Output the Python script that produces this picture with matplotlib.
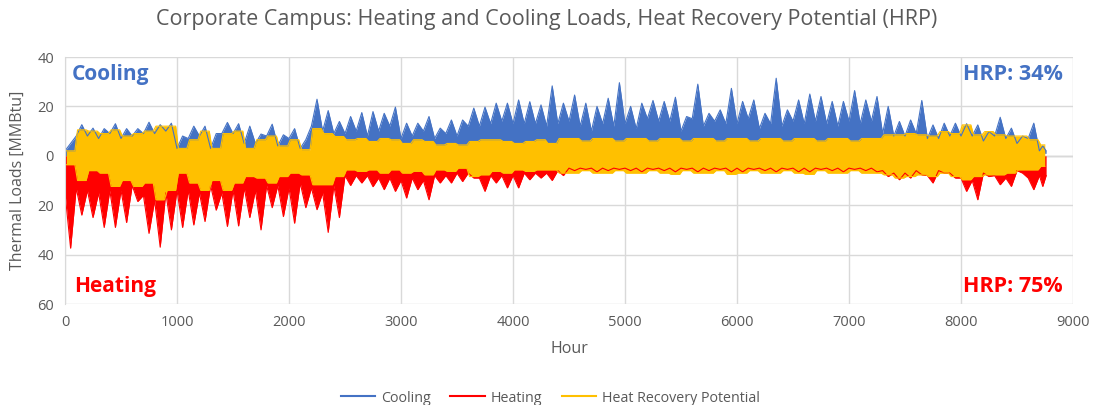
import matplotlib
matplotlib.use("Agg")
import matplotlib.pyplot as plt
import numpy as np

# 100-hour bins across the year (last bin is 8700-8760)
bin_start = np.arange(0, 8760, 100)
bin_end = np.minimum(bin_start + 100, 8760)

# Cooling (positive): spike peak, dense upper edge, lower floor of each bin [MMBtu]
cool_peak = [5, 12.6, 11.2, 11, 13, 11, 11, 13.6, 12.6, 13.2,
             8, 12, 12, 9, 13.5, 13, 12, 8.8, 12.8, 8.5,
             11, 6.5, 22.9, 18.3, 13.9, 15.9, 17.5, 17.9, 17.2, 19.7,
             13.2, 13.2, 15.9, 11.2, 14.5, 14.5, 19.3, 19.7, 21.3, 21.3,
             22.6, 21.9, 20.6, 28.3, 21.3, 24.6, 21.3, 20, 23.3, 29.6,
             20, 21.3, 22.4, 22, 23.7, 15.9, 29, 17.2, 18.6, 27.3,
             22, 22.6, 17.2, 31.4, 18.6, 22.6, 25, 24, 22, 22,
             26.4, 22.6, 24, 20, 13.9, 14.5, 22.4, 12.5, 13.2, 13.2,
             13, 12.5, 9.8, 15.6, 11.2, 8, 13.2, 4]
cool_body = [2, 8, 8, 7, 9, 7, 8, 9, 9, 10,
             3, 7, 8, 3, 9, 9, 5, 5, 8, 4,
             7, 3, 12, 10, 9, 9, 10, 8, 10, 12,
             7, 8, 10, 7, 9, 8, 12, 12, 13, 14,
             13, 13, 13, 12, 13, 14, 12, 10, 13, 12,
             13, 11, 15, 14, 14, 10, 15, 12, 14, 13,
             13, 15, 11, 13, 12, 14, 13, 14, 13, 12,
             14, 13, 14, 9, 8, 8, 9, 7, 7, 8,
             8, 8, 6, 8, 7, 5, 7, 2]
cool_floor = [0] * 22 + [3.8] * 13 + [2.8] * 9 + [4.4] * 29 + [1] * 15

# Heating (negative): spike trough and dense lower edge of each bin [MMBtu]
heat_peak = [-37.4, -24, -25, -29, -29, -27, -18.5, -31.4, -37, -30,
             -29, -28, -26.6, -22, -28.6, -28.4, -25, -30, -21, -24.6,
             -27.3, -21, -21.8, -31, -25, -12, -11, -12.5, -13.7, -14.4,
             -17.1, -13.7, -17.8, -11, -11, -10.4, -9, -14.4, -11, -13,
             -13, -9.7, -9, -10, -8, -6, -5.5, -6.5, -6, -5.5,
             -6, -6.5, -5.5, -6, -6.5, -5.5, -6.5, -6, -5.5, -6.5,
             -6.5, -5.5, -6, -6.5, -5.5, -6.5, -6.5, -5.5, -6, -6.5,
             -5.5, -6, -6.5, -8.4, -9.7, -9, -7.7, -11, -7, -9,
             -14.4, -17.8, -8.4, -11.7, -12.4, -7, -13.7, -12.4]
heat_body = [-15, -13, -14, -15, -14, -14, -12, -16, -18, -15,
             -14, -14, -15, -12, -15, -14, -13, -14, -12, -12,
             -13, -11, -13, -15, -12, -8, -8, -8, -9, -9,
             -10, -9, -10, -8, -8, -7, -7, -9, -8, -8,
             -8, -7, -7, -7, -6, -5, -5, -5, -5, -5,
             -5, -5, -5, -5, -5, -5, -5, -5, -5, -5,
             -5, -5, -5, -5, -5, -5, -5, -5, -5, -5,
             -5, -5, -5, -6, -7, -7, -6, -8, -6, -7,
             -9, -10, -7, -8, -9, -6, -9, -8]

# Heat recovery potential: upper and lower edge of each bin [MMBtu]
hrp_top = [2, 10.5, 10, 9, 10.5, 8, 9, 10, 12, 12,
           3, 6.5, 10, 3, 9, 10, 3, 6.5, 8, 4,
           6.5, 2.5, 11, 9, 7.8, 6.5, 7, 5.8, 7, 6.5,
           5, 6.5, 5.8, 4.4, 5, 4.4, 5.8, 6.5, 6.5, 5.8,
           5, 5.8, 6.5, 5, 7, 7, 6, 7, 7, 6,
           7, 7, 6, 7, 7, 6, 7, 7, 6, 7,
           7, 6, 7, 7, 6, 7, 7, 6, 7, 7,
           6, 7, 7, 8.5, 8.5, 9, 8.5, 8, 9.8, 9,
           12.5, 8.5, 9.8, 8.5, 8, 8, 6.5, 4.4]
hrp_bot = [-3.6, -10, -6, -7, -12.4, -10, -12.4, -11, -17.8, -14,
           -7, -11, -14, -10, -14, -11, -8.4, -9, -11, -8.4,
           -7, -7.7, -11.7, -11.7, -8.4, -5.7, -6.3, -5.7, -7, -5.7,
           -7, -6.3, -7.7, -5.7, -6.3, -5, -8.4, -7.7, -6.3, -7,
           -5.7, -6.3, -5.7, -5.7, -7, -7, -6, -7, -7, -6,
           -7, -7, -6, -7, -7.5, -6, -7, -7, -6, -7.5,
           -7, -6, -7, -7, -6, -7, -7.5, -6, -7, -7,
           -6, -7, -7, -7.7, -9, -8.4, -7.7, -8.4, -7, -8.4,
           -9.7, -8.4, -7.7, -7.7, -7, -5.7, -5.7, -4.3]

ytick_vals = [-60, -40, -20, 0, 20, 40]
ytick_labels = ["60", "40", "20", "0", "20", "40"]

BLUE = "#4472C4"
RED = "#FF0000"
GOLD = "#FFC000"
GREY = "#595959"
GRID = "#D9D9D9"
FONT = "Open Sans"


def sawtooth_outline(body, peak):
    # each bin rises from its dense edge to its extreme value and back
    xs, ys = [], []
    for s, e, b, p in zip(bin_start, bin_end, body, peak):
        xs += [s, (s + e) / 2]
        ys += [b, p]
    xs.append(bin_end[-1])
    ys.append(body[-1])
    return np.array(xs), np.array(ys)


def band_outline(values, inset=12):
    xs, ys = [], []
    for s, e, v in zip(bin_start, bin_end, values):
        xs += [s + inset, e - inset]
        ys += [v, v]
    return np.array(xs), np.array(ys)


fig = plt.figure(figsize=(10.94, 4.05), dpi=100)
ax = fig.add_axes([65 / 1094, 1 - 304 / 405, (1073 - 65) / 1094, (304 - 57) / 405])

# cooling
cx, cy = sawtooth_outline(cool_body, cool_peak)
floor = np.append(np.repeat(np.asarray(cool_floor, dtype=float), 2), cool_floor[-1])
ax.fill_between(cx, floor, cy, color=BLUE, lw=0)
ax.plot(cx, cy, color=BLUE, lw=0.8)

# heating
hx, hy = sawtooth_outline(heat_body, heat_peak)
ax.fill_between(hx, 0, hy, color=RED, lw=0)
ax.plot(hx, hy, color=RED, lw=0.8)

# heat recovery potential on top
tx, ty = band_outline(hrp_top)
bx, by = band_outline(hrp_bot)
ax.fill_between(tx, by, ty, color=GOLD, lw=0)
ax.plot(tx, ty, color=GOLD, lw=0.8)
ax.plot(bx, by, color=GOLD, lw=0.8)

# legend proxies
ax.plot([], [], color=BLUE, lw=1.5, label="Cooling")
ax.plot([], [], color=RED, lw=1.5, label="Heating")
ax.plot([], [], color=GOLD, lw=1.5, label="Heat Recovery Potential")

ax.set_xlim(0, 9000)
ax.set_ylim(-60, 40)
ax.set_xticks(range(0, 9001, 1000))
ax.set_yticks(ytick_vals)
ax.set_yticklabels(ytick_labels)
ax.grid(True, color=GRID, lw=1)
ax.set_axisbelow(True)
ax.axhline(0, color="#BFBFBF", lw=1, zorder=0.5)
for side in ["top", "right", "bottom"]:
    ax.spines[side].set_visible(False)
ax.spines["left"].set_color(GRID)
ax.tick_params(length=0, labelsize=10.5, colors=GREY, pad=8)
for lbl in ax.get_xticklabels() + ax.get_yticklabels():
    lbl.set_fontfamily(FONT)

ax.set_xlabel("Hour", fontsize=11.5, color=GREY, family=FONT, labelpad=8)
ax.set_ylabel("Thermal Loads [MMBtu]", fontsize=11.5, color=GREY, family=FONT, labelpad=8)
fig.text(0.5, 1 - 20 / 405, "Corporate Campus: Heating and Cooling Loads, Heat Recovery Potential (HRP)",
         ha="center", va="center", fontsize=15.5, color=GREY, family=FONT)

ax.text(0.007, 0.93, "Cooling", transform=ax.transAxes, fontsize=15, fontweight="bold",
        color=BLUE, family=FONT, va="center")
ax.text(0.009, 0.07, "Heating", transform=ax.transAxes, fontsize=15, fontweight="bold",
        color=RED, family=FONT, va="center")
ax.text(0.99, 0.93, "HRP: 34%", transform=ax.transAxes, fontsize=15.5, fontweight="bold",
        color=BLUE, family=FONT, va="center", ha="right")
ax.text(0.99, 0.07, "HRP: 75%", transform=ax.transAxes, fontsize=15.5, fontweight="bold",
        color=RED, family=FONT, va="center", ha="right")

leg = fig.legend(loc="center", bbox_to_anchor=(0.503, 1 - 398 / 405), ncol=3, frameon=False,
                 handlelength=2.4, columnspacing=1.4, handletextpad=0.4,
                 prop={"family": FONT, "size": 10.3})
for t in leg.get_texts():
    t.set_color(GREY)

fig.savefig("out.png", dpi=100)
